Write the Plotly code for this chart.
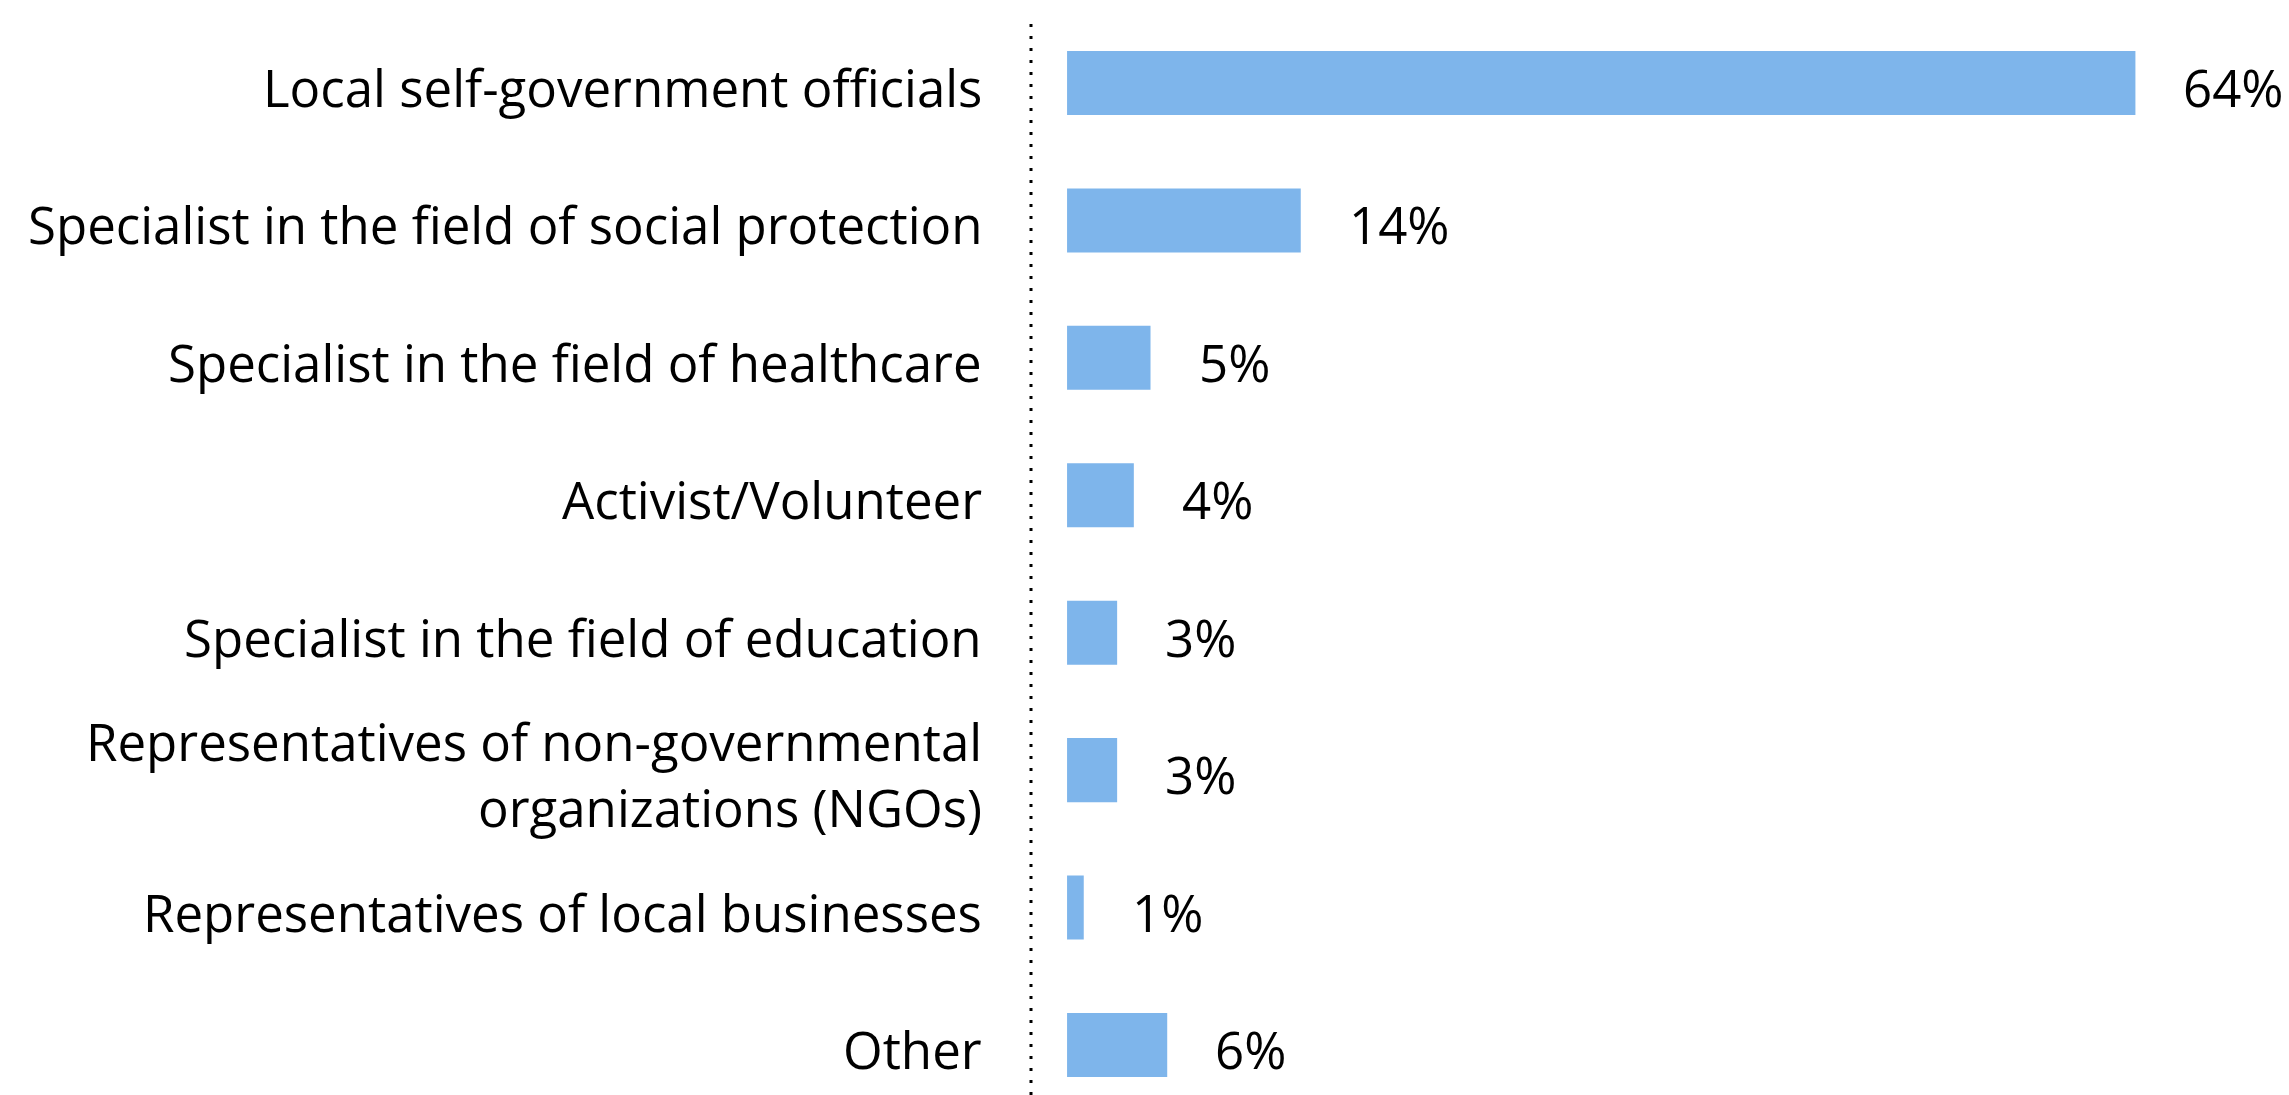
import plotly.graph_objects as go

# Respondent groups and their shares (%)
categories = [
    "Local self-government officials",
    "Specialist in the field of social protection",
    "Specialist in the field of healthcare",
    "Activist/Volunteer",
    "Specialist in the field of education",
    "Representatives of non-governmental<br>organizations (NGOs)",
    "Representatives of local businesses",
    "Other",
]
shares = [64, 14, 5, 4, 3, 3, 1, 6]
value_labels = [f"{v}%" for v in shares]

BAR_COLOR = "#7EB5EB"
FONT = "Open Sans"
FONT_SIZE = 51
TEXT_FONT = dict(family=FONT, size=FONT_SIZE, color="#000000")

fig = go.Figure(
    go.Bar(
        x=shares,
        y=categories,
        orientation="h",
        marker=dict(color=BAR_COLOR, line=dict(width=0)),
        width=0.466,
        hoverinfo="skip",
    )
)

for cat, val, lab in zip(categories, shares, value_labels):
    # category name, right-aligned left of the separator
    fig.add_annotation(
        x=0, xref="x domain", y=cat, text=cat, showarrow=False,
        xanchor="right", yanchor="middle", align="right",
        xshift=-47, yshift=-4, font=TEXT_FONT,
    )
    # value label to the right of each bar
    fig.add_annotation(
        x=val, y=cat, text=lab, showarrow=False,
        xanchor="left", yanchor="middle", xshift=46, yshift=-4,
        font=TEXT_FONT,
    )

# dotted separator between labels and bars
fig.add_shape(
    type="line", xref="x domain", yref="paper",
    x0=0, x1=0, y0=0, y1=0.982,
    line=dict(color="#000000", width=3, dash="3px,9px"),
)

fig.update_layout(
    width=2289, height=1095,
    margin=dict(l=1031, r=0, t=0, b=0),
    paper_bgcolor="white", plot_bgcolor="white",
    showlegend=False,
    font=TEXT_FONT,
    xaxis=dict(range=[-2.16, 73.2], visible=False, fixedrange=True),
    yaxis=dict(
        range=[7.364, -0.604], showgrid=False, zeroline=False,
        showline=False, ticks="", showticklabels=False,
    ),
)

fig.write_html("out.html")
